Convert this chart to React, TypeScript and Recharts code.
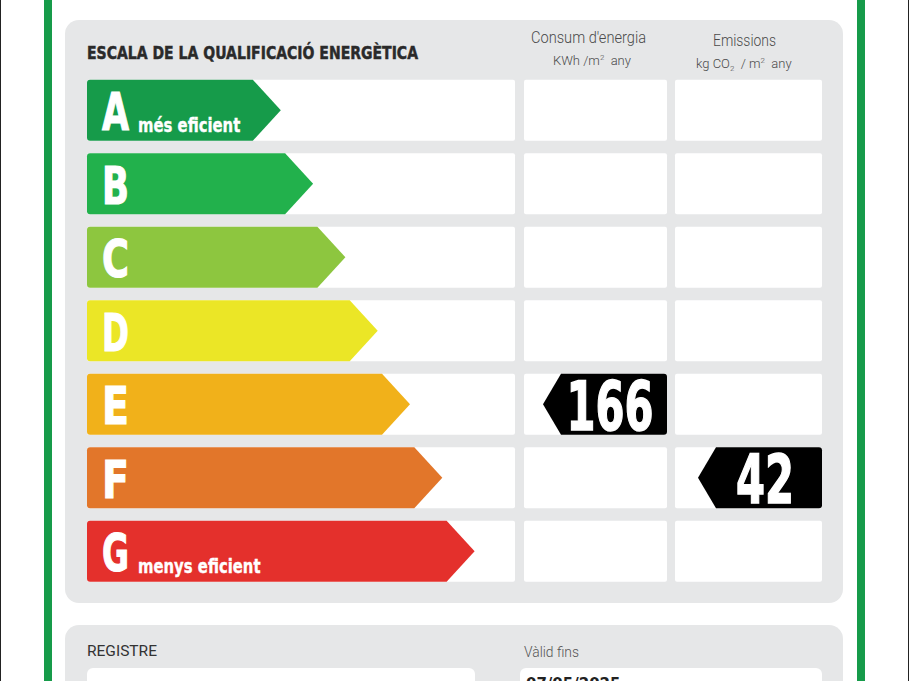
import React from 'react';
import { BarChart, Bar, XAxis, YAxis } from 'recharts';

// ---- data ----
const ratings = ['A', 'B', 'C', 'D', 'E', 'F', 'G'];
const arrowLengths = [6, 7, 8, 9, 10, 11, 12];
const ratingColors = ['#169B4A', '#22B14C', '#8DC63F', '#EBE626', '#F1B11A', '#E2762A', '#E4302C'];
const ratingCaptions = ['més eficient', '', '', '', '', '', 'menys eficient'];
const consumptionRating = 'E';
const consumptionValue = 166;
const emissionsRating = 'F';
const emissionsValue = 42;

const rows = ratings.map((r, i) => ({
  rating: r,
  arrow: arrowLengths[i],
  color: ratingColors[i],
  caption: ratingCaptions[i],
}));

const W = 909;
const H = 681;
const BOLD = "'DejaVu Sans', 'Liberation Sans', sans-serif";
const LIGHT = "Roboto, 'Liberation Sans', sans-serif";

function Tag({ right, y, height, value }: any) {
  const w = 124;
  const tip = 18;
  const left = right - w;
  const cy = y + height / 2;
  const r = 3;
  const d = `M${left},${cy} L${left + tip},${y} L${right - r},${y} Q${right},${y} ${right},${y + r} L${right},${y + height - r} Q${right},${y + height} ${right - r},${y + height} L${left + tip},${y + height} Z`;
  const label = String(value);
  return (
    <g>
      <path d={d} fill="#000" />
      <text
        x={(left + tip + right) / 2 - 4}
        y={y + height - 5}
        textAnchor="middle"
        fill="#fff"
        stroke="#fff"
        strokeWidth={1.6}
        fontFamily={BOLD}
        fontWeight="bold"
        fontSize={67}
        textLength={label.length * 29}
        lengthAdjust="spacingAndGlyphs"
      >
        {label}
      </text>
    </g>
  );
}

function RowBackground(props: any) {
  const { x, y, height, index, payload } = props;
  const rating = (payload && payload.rating) || ratings[index];
  const cells = [
    [0, 428],
    [437, 580],
    [588, 735],
  ];
  return (
    <g>
      {cells.map(([a, b], i) => (
        <rect key={i} x={x + a} y={y} width={b - a} height={height} rx={2} fill="#fff" />
      ))}
      {rating === consumptionRating && (
        <Tag right={x + 580} y={y} height={height} value={consumptionValue} />
      )}
      {rating === emissionsRating && (
        <Tag right={x + 735} y={y} height={height} value={emissionsValue} />
      )}
    </g>
  );
}

function Arrow(props: any) {
  const { x, y, width, height, payload, index } = props;
  const color = (payload && payload.color) || ratingColors[index];
  const caption = (payload && payload.caption) || '';
  const rating = (payload && payload.rating) || ratings[index];
  const tip = 28;
  const r = 3;
  const body = x + width - tip;
  const cy = y + height / 2;
  const d = `M${x + r},${y} L${body},${y} L${x + width},${cy} L${body},${y + height} L${x + r},${y + height} Q${x},${y + height} ${x},${y + height - r} L${x},${y + r} Q${x},${y} ${x + r},${y} Z`;
  return (
    <g>
      <path d={d} fill={color} />
      <text
        x={x + 15}
        y={cy + 20}
        fill="#fff"
        stroke="#fff"
        strokeWidth={1.2}
        fontFamily={BOLD}
        fontWeight="bold"
        fontSize={52}
        textLength={27}
        lengthAdjust="spacingAndGlyphs"
      >
        {rating}
      </text>
      {caption && (
        <text
          transform={`translate(${x + 51},${y + height - 9}) scale(0.743,1)`}
          fill="#fff"
          stroke="#fff"
          strokeWidth={0.4}
          fontFamily={BOLD}
          fontWeight="bold"
          fontSize={20}
        >
          {caption}
        </text>
      )}
    </g>
  );
}

function Decor() {
  return (
    <svg width={W} height={H} style={{ position: 'absolute', left: 0, top: 0 }}>
      <rect x={0} y={0} width={W} height={H} fill="#fff" />
      <rect x={0} y={0} width={1} height={H} fill="#222" />
      <rect x={908} y={0} width={1} height={H} fill="#222" />
      <rect x={44} y={0} width={8} height={H} fill="#169B4A" />
      <rect x={857} y={0} width={8} height={H} fill="#169B4A" />
      <rect x={65} y={20} width={778} height={583} rx={14} fill="#E6E7E8" />
      <rect x={65} y={625} width={778} height={100} rx={14} fill="#E6E7E8" />
      <text x={87} y={59} fontFamily={BOLD} fontWeight="bold" fontSize={18} fill="#2a2a2a" stroke="#2a2a2a" strokeWidth={0.5} textLength={331} lengthAdjust="spacingAndGlyphs">
        ESCALA DE LA QUALIFICACIÓ ENERGÈTICA
      </text>
      <text x={531} y={43} fontFamily={LIGHT} fontWeight={300} fontSize={16} fill="#4a4a4a" textLength={115} lengthAdjust="spacingAndGlyphs">
        Consum d'energia
      </text>
      <text x={553} y={65} fontFamily={LIGHT} fontWeight={300} fontSize={13} fill="#4a4a4a">
        KWh /m<tspan fontSize={8} dy={-5}>2</tspan>
        <tspan dy={5}>{'\u00a0 any'}</tspan>
      </text>
      <text x={713} y={46} fontFamily={LIGHT} fontWeight={300} fontSize={16} fill="#4a4a4a" textLength={63} lengthAdjust="spacingAndGlyphs">
        Emissions
      </text>
      <text x={696} y={68} fontFamily={LIGHT} fontWeight={300} fontSize={13} fill="#4a4a4a">
        kg CO<tspan fontSize={8} dy={3}>2</tspan>
        <tspan dy={-3}>{'\u00a0 / m'}</tspan>
        <tspan fontSize={8} dy={-5}>2</tspan>
        <tspan dy={5}>{'\u00a0 any'}</tspan>
      </text>
      <text x={87} y={656} fontFamily={LIGHT} fontSize={15} fill="#333" textLength={70} lengthAdjust="spacingAndGlyphs">
        REGISTRE
      </text>
      <text x={524} y={657} fontFamily={LIGHT} fontWeight={300} fontSize={15} fill="#555" textLength={55} lengthAdjust="spacingAndGlyphs">
        Vàlid fins
      </text>
      <rect x={87} y={668} width={388} height={40} rx={6} fill="#fff" />
      <rect x={520} y={668} width={302} height={40} rx={6} fill="#fff" />
      <text x={526} y={689} fontFamily={BOLD} fontWeight="bold" fontSize={15} fill="#222">
        07/05/2025
      </text>
    </svg>
  );
}

export default function App() {
  return (
    <div style={{ position: 'absolute', left: 0, top: 0, width: W, height: H, overflow: 'hidden' }}>
      <Decor />
      <div style={{ position: 'absolute', left: 0, top: 0 }}>
        <BarChart
          width={W}
          height={H}
          data={rows}
          layout="vertical"
          margin={{ top: 73.75, bottom: 92.75, left: 87, right: 176 }}
          barSize={61}
        >
          <XAxis type="number" hide domain={[0, 20]} />
          <YAxis type="category" dataKey="rating" hide />
          <Bar
            dataKey="arrow"
            isAnimationActive={false}
            background={RowBackground}
            shape={Arrow}
          />
        </BarChart>
      </div>
    </div>
  );
}
